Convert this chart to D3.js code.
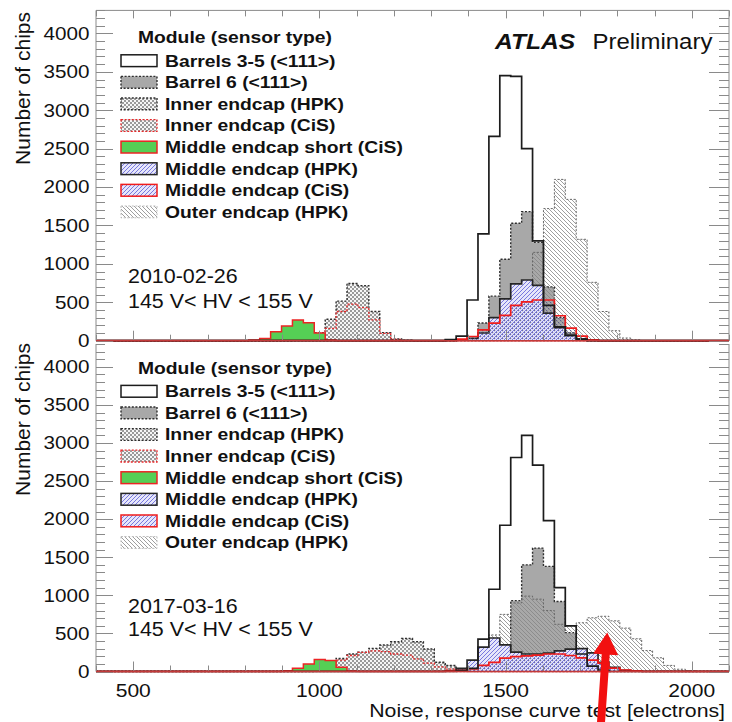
<!DOCTYPE html>
<html>
<head>
<meta charset="utf-8">
<script src="https://cdn.jsdelivr.net/npm/d3@7"></script>
<style>
  html, body { margin: 0; padding: 0; background: #fff; }
  svg { display: block; }
</style>
</head>
<body>
<svg id="chart" width="732" height="722"></svg>
<script>
// ---- Binning of the noise axis (electrons) ----
const noiseRange = [400, 2100];
const binCount = 58;
const countMax = 4300;
const xTickValues = [500, 1000, 1500, 2000];
const yTickValues = [0, 500, 1000, 1500, 2000, 2500, 3000, 3500, 4000];

// ---- Legend entries (drawing styles are keyed by id) ----
const seriesIds = ["barrels35", "barrel6", "innerHPK", "innerCiS", "middleShort", "middleHPK", "middleCiS", "outerHPK"];
const seriesLabels = [
  "Barrels 3-5 (<111>)",
  "Barrel 6 (<111>)",
  "Inner endcap (HPK)",
  "Inner endcap (CiS)",
  "Middle endcap short (CiS)",
  "Middle endcap (HPK)",
  "Middle endcap (CiS)",
  "Outer endcap (HPK)"
];

// ---- Chip counts per bin, 2010-02-26 (start = index of first listed bin) ----
const r2010_barrels35   = { start: 32, counts: [15, 60, 530, 1390, 2660, 3450, 3440, 2500, 1300, 460, 180, 70, 20] };
const r2010_barrel6     = { start: 33, counts: [10, 30, 230, 580, 1060, 1530, 1680, 1280, 700, 300, 100, 25] };
const r2010_innerHPK    = { start: 18, counts: [5, 20, 105, 280, 515, 745, 715, 380, 105, 22, 5] };
const r2010_innerCiS    = { start: 17, counts: [5, 15, 25, 40, 160, 380, 475, 430, 270, 95, 18, 4] };
const r2010_middleShort = { start: 14, counts: [8, 30, 115, 190, 270, 235, 100, 8] };
const r2010_middleHPK   = { start: 33, counts: [10, 30, 100, 300, 545, 740, 790, 720, 360, 170, 70, 25, 5] };
const r2010_middleCiS   = { start: 32, counts: [5, 20, 55, 140, 230, 330, 460, 505, 530, 530, 325, 165, 60, 12] };
const r2010_outerHPK    = { start: 36, counts: [10, 30, 150, 550, 1150, 1720, 2100, 1840, 1320, 760, 380, 130, 35, 10] };

// ---- Chip counts per bin, 2017-03-16 ----
const r2017_barrels35   = { start: 33, counts: [15, 40, 425, 1080, 1920, 2810, 3100, 2710, 1980, 1100, 600, 230, 70, 20] };
const r2017_barrel6     = { start: 35, counts: [10, 40, 200, 930, 1400, 1620, 1380, 920, 510, 230, 80, 20] };
const r2017_innerHPK    = { start: 20, counts: [8, 30, 170, 230, 252, 304, 347, 391, 434, 391, 295, 122, 78, 35, 10] };
const r2017_innerCiS    = { start: 19, counts: [5, 15, 60, 150, 210, 250, 270, 260, 230, 215, 165, 110, 60, 30, 10] };
const r2017_middleShort = { start: 17, counts: [10, 43, 100, 156, 143, 55, 8] };
const r2017_middleHPK   = { start: 32, counts: [10, 40, 150, 320, 440, 350, 255, 230, 230, 240, 270, 295, 300, 245, 120, 55, 15, 5] };
const r2017_middleCiS   = { start: 32, counts: [5, 15, 35, 80, 120, 175, 195, 205, 215, 230, 230, 210, 180, 150, 110, 45, 20, 8] };
const r2017_outerHPK    = { start: 34, counts: [30, 150, 480, 750, 900, 990, 950, 800, 620, 600, 640, 705, 725, 665, 570, 430, 275, 180, 80, 30, 10] };

// Annotation arrow tip (noise, chips) in the 2017 panel
const arrowTip = [1773, 512];

// ---------------------------------------------------------------
const FONT = "'Liberation Sans', Arial, Helvetica, sans-serif";
const svg = d3.select("#chart");
const plotLeft = 96, plotRight = 729;

const x = d3.scaleLinear().domain(noiseRange).range([plotLeft, plotRight]);
const binEdges = d3.range(binCount + 1).map(i => noiseRange[0] + i * (noiseRange[1] - noiseRange[0]) / binCount);

const panels = [
  {
    key: "p2010", top: 10.4, zero: 340.7, legendShift: 0,
    date: "2010-02-26", dateBase: 283.3, hvBase: 308.3, drawTopFrame: true, titleEnd: 12,
    data: { barrels35: r2010_barrels35, barrel6: r2010_barrel6, innerHPK: r2010_innerHPK, innerCiS: r2010_innerCiS,
            middleShort: r2010_middleShort, middleHPK: r2010_middleHPK, middleCiS: r2010_middleCiS, outerHPK: r2010_outerHPK }
  },
  {
    key: "p2017", top: 344, zero: 671.5, legendShift: 330.6,
    date: "2017-03-16", dateBase: 612.6, hvBase: 636, drawTopFrame: false, titleEnd: 343,
    data: { barrels35: r2017_barrels35, barrel6: r2017_barrel6, innerHPK: r2017_innerHPK, innerCiS: r2017_innerCiS,
            middleShort: r2017_middleShort, middleHPK: r2017_middleHPK, middleCiS: r2017_middleCiS, outerHPK: r2017_outerHPK }
  }
];

// Fill / outline styles (legendFill is used for the legend swatch)
const styles = {
  barrels35:   { fill: "none",             legendFill: "#ffffff",          stroke: "#1c1c1c", width: 1.7, dash: null },
  barrel6:     { fill: "#a8a8a8",          legendFill: "#a8a8a8",          stroke: "#2e2e2e", width: 1.4, dash: "2,1.6" },
  innerHPK:    { fill: "url(#checker)",    legendFill: "url(#checker)",    stroke: "#2e2e2e", width: 1.4, dash: "2,1.6" },
  innerCiS:    { fill: "url(#checker)",    legendFill: "url(#checker)",    stroke: "#e8282a", width: 1.3, dash: "2,1.6" },
  middleShort: { fill: "#55cf55",          legendFill: "#55cf55",          stroke: "#ec2424", width: 1.5, dash: null },
  middleHPK:   { fill: "url(#blueHatch)",  legendFill: "url(#blueHatch)",  stroke: "#262626", width: 1.7, dash: null },
  middleCiS:   { fill: "url(#blueDots)",   legendFill: "url(#blueHatch)",  stroke: "#f01c1c", width: 1.7, dash: null },
  outerHPK:    { fill: "url(#grayHatch)",  legendFill: "url(#grayHatch)",  stroke: "#666666", width: 1.0, dash: "2,1.6" }
};
const drawOrder = ["barrel6", "outerHPK", "innerHPK", "innerCiS", "middleShort", "middleHPK", "middleCiS", "barrels35"];

// ---- Patterns ----
const defs = svg.append("defs");
{
  const p = defs.append("pattern").attr("id", "checker").attr("patternUnits", "userSpaceOnUse")
    .attr("width", 4).attr("height", 4);
  p.append("rect").attr("width", 4).attr("height", 4).attr("fill", "#f6f6f6");
  p.append("rect").attr("width", 2).attr("height", 2).attr("fill", "#9a9a9a");
  p.append("rect").attr("x", 2).attr("y", 2).attr("width", 2).attr("height", 2).attr("fill", "#9a9a9a");

  const b = defs.append("pattern").attr("id", "blueHatch").attr("patternUnits", "userSpaceOnUse")
    .attr("width", 4).attr("height", 4);
  b.append("rect").attr("width", 4).attr("height", 4).attr("fill", "#e6e6fa");
  b.append("path").attr("d", "M-1,1 l2,-2 M0,4 l4,-4 M3,5 l2,-2").attr("stroke", "#6c6cdc").attr("stroke-width", 0.9);

  // fine dots that give the overlapping middle-endcap region its grainy look
  const d = defs.append("pattern").attr("id", "blueDots").attr("patternUnits", "userSpaceOnUse")
    .attr("width", 4).attr("height", 4);
  d.append("rect").attr("x", 0).attr("y", 0).attr("width", 1.2).attr("height", 1.2).attr("fill", "#50508a").attr("opacity", 0.8);
  d.append("rect").attr("x", 2).attr("y", 2).attr("width", 1.2).attr("height", 1.2).attr("fill", "#50508a").attr("opacity", 0.8);

  const g = defs.append("pattern").attr("id", "grayHatch").attr("patternUnits", "userSpaceOnUse")
    .attr("width", 4).attr("height", 4);
  g.append("path").attr("d", "M-1,3 l2,2 M0,0 l4,4 M3,-1 l2,2").attr("stroke", "#858585").attr("stroke-width", 0.8);
}

// ---- Helpers ----
function label(parent, o) {
  return parent.append("text")
    .attr("transform", `translate(${o.x},${o.y}) rotate(${o.rotate || 0}) scale(${o.sx == null ? 1.15 : o.sx},1)`)
    .attr("text-anchor", o.anchor || "start")
    .attr("font-family", FONT)
    .attr("font-size", o.size)
    .attr("font-weight", o.weight || "normal")
    .attr("font-style", o.style || "normal")
    .attr("fill", o.fill || "#111")
    .text(o.text);
}

function expand(s) {
  const a = new Array(binCount).fill(0);
  s.counts.forEach((c, i) => { a[s.start + i] = c; });
  return a;
}

function stepPoints(counts, y) {
  const pts = [[x(binEdges[0]), y(0)]];
  counts.forEach((c, i) => {
    pts.push([x(binEdges[i]), y(c)]);
    pts.push([x(binEdges[i + 1]), y(c)]);
  });
  pts.push([x(binEdges[binCount]), y(0)]);
  return pts;
}
const line = d3.line();

// ---- Panels ----
panels.forEach((P, pi) => {
  const y = d3.scaleLinear().domain([0, countMax]).range([P.zero, P.top]);
  const g = svg.append("g").attr("class", P.key);

  const clipId = "clip-" + P.key;
  defs.append("clipPath").attr("id", clipId).append("rect")
    .attr("x", plotLeft).attr("y", P.top).attr("width", plotRight - plotLeft).attr("height", P.zero - P.top + 1);

  // histograms
  const hg = g.append("g").attr("clip-path", `url(#${clipId})`);
  drawOrder.forEach(id => {
    const st = styles[id];
    const pts = stepPoints(expand(P.data[id]), y);
    if (st.fill !== "none") {
      hg.append("path").attr("d", line(pts) + "Z").attr("fill", st.fill).attr("stroke", "none");
    }
    hg.append("path").attr("d", line(pts)).attr("fill", "none")
      .attr("stroke", st.stroke).attr("stroke-width", st.width)
      .attr("stroke-dasharray", st.dash).attr("stroke-linejoin", "miter");
  });

  // frame
  const frameColor = "#8a8a8a";
  const fr = g.append("g").attr("stroke", frameColor).attr("stroke-width", 1).attr("fill", "none");
  fr.append("line").attr("x1", plotLeft).attr("x2", plotLeft).attr("y1", P.top).attr("y2", P.zero);
  fr.append("line").attr("x1", plotRight).attr("x2", plotRight).attr("y1", P.top).attr("y2", P.zero);
  if (P.drawTopFrame) fr.append("line").attr("x1", plotLeft).attr("x2", plotRight).attr("y1", P.top).attr("y2", P.top);

  // y ticks: majors every 500, minors every 100
  d3.range(0, countMax + 1, 100).forEach(v => {
    const major = v % 500 === 0;
    const yy = Math.round(y(v)) + 0.5;
    fr.append("line").attr("x1", plotLeft).attr("x2", plotLeft + (major ? 17 : 9)).attr("y1", yy).attr("y2", yy);
    fr.append("line").attr("x1", plotRight).attr("x2", plotRight - (major ? 20 : 10)).attr("y1", yy).attr("y2", yy);
  });
  // x ticks along the bottom and top of the panel
  d3.range(noiseRange[0], noiseRange[1] + 1, 100).forEach(v => {
    const major = v % 500 === 0;
    const xx = Math.round(x(v)) + 0.5;
    fr.append("line").attr("x1", xx).attr("x2", xx).attr("y1", P.zero).attr("y2", P.zero - (major ? 10 : 6));
    if (P.drawTopFrame) fr.append("line").attr("x1", xx).attr("x2", xx).attr("y1", P.top).attr("y2", P.top + (major ? 8 : 6));
  });

  // zero line
  g.append("line").attr("x1", plotLeft).attr("x2", plotRight).attr("y1", P.zero).attr("y2", P.zero)
    .attr("stroke", "#c43a3a").attr("stroke-width", 1.3);

  // y tick labels
  yTickValues.forEach(v => {
    label(g, { x: 89.5, y: y(v) + 6.3, text: String(v), size: 17.5, anchor: "end", sx: 1.18 });
  });

  // y title
  label(g, { x: 29.5, y: P.titleEnd, text: "Number of chips", size: 21, anchor: "end", rotate: -90, sx: 1 });

  // legend
  const ls = P.legendShift;
  label(g, { x: 138, y: 43.4 + ls, text: "Module (sensor type)", size: 16.5, weight: "bold", sx: 1.17 });
  seriesIds.forEach((id, i) => {
    const st = styles[id];
    const cy = 60.7 + 21.6 * i + ls;
    g.append("rect").attr("x", 121).attr("y", cy - 5.9).attr("width", 36).attr("height", 11.8)
      .attr("fill", st.legendFill)
      .attr("stroke", id === "outerHPK" ? "#bbbbbb" : st.stroke)
      .attr("stroke-width", Math.min(st.width, 1.5))
      .attr("stroke-dasharray", st.dash);
    label(g, { x: 165, y: cy + 5.9, text: seriesLabels[i], size: 16.5, weight: "bold", sx: 1.17 });
  });

  // run date and HV window
  label(g, { x: 128, y: P.dateBase, text: P.date, size: 19.5, sx: 1.1 });
  label(g, { x: 128, y: P.hvBase, text: "145 V< HV < 155 V", size: 19.5, sx: 1.1 });

  if (pi === 0) {
    label(g, { x: 495, y: 48.5, text: "ATLAS", size: 22, weight: "bold", style: "italic", sx: 1.12 });
    label(g, { x: 592.5, y: 48.5, text: "Preliminary", size: 22, sx: 1.09 });
  }

  if (pi === 1) {
    // x tick labels and axis title
    xTickValues.forEach(v => {
      label(g, { x: x(v), y: 696.7, text: String(v), size: 18, anchor: "middle", sx: 1.17 });
    });
    label(g, { x: 725, y: 716.5, text: "Noise, response curve test [electrons]", size: 19, anchor: "end", sx: 1.12 });

    // red arrow pointing at the outer-endcap shoulder
    const T = [x(arrowTip[0]), y(arrowTip[1])];
    const dir = [5.9, -85];
    const len = Math.hypot(dir[0], dir[1]);
    const u = [dir[0] / len, dir[1] / len];
    const n = [-u[1], u[0]];
    const headLen = 22, headHalf = 12.5, shaftHalf = 4, total = 105;
    const at2 = (d, w) => [T[0] - d * u[0] + w * n[0], T[1] - d * u[1] + w * n[1]];
    const poly = [T, at2(headLen, headHalf), at2(headLen, shaftHalf), at2(total, shaftHalf),
                  at2(total, -shaftHalf), at2(headLen, -shaftHalf), at2(headLen, -headHalf)];
    svg.append("polygon").attr("points", poly.map(p => p.join(",")).join(" ")).attr("fill", "#f21010");
  }
});
</script>
</body>
</html>
